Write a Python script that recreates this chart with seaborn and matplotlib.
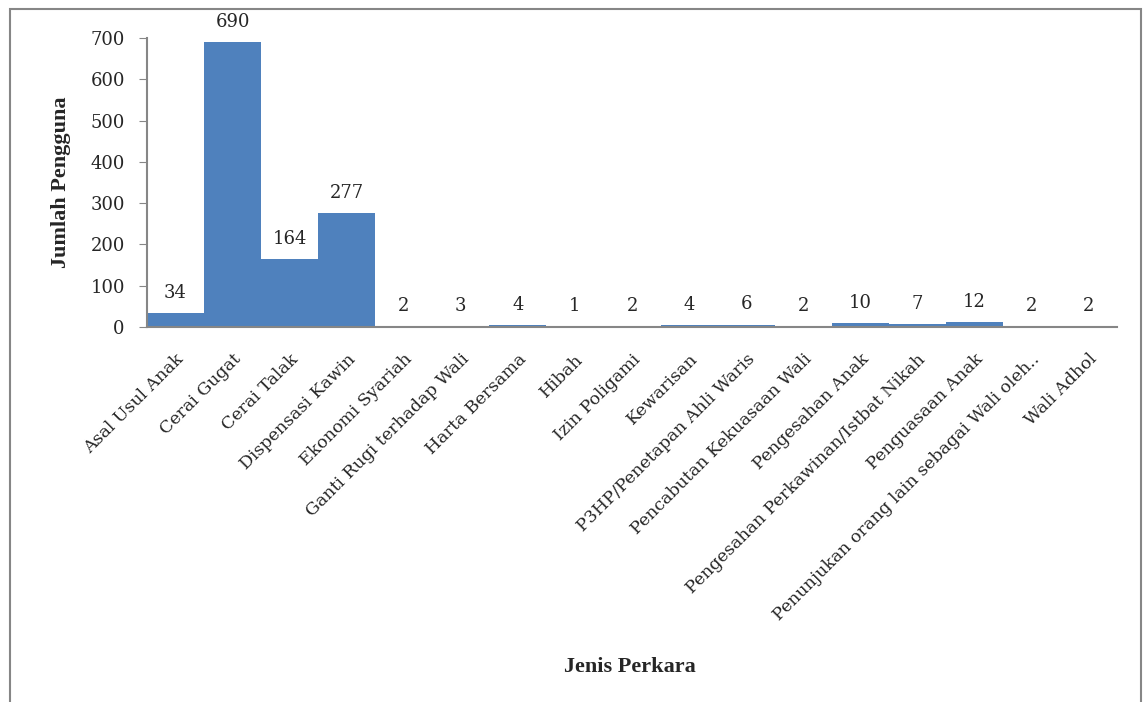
import numpy as np
import pandas as pd
import matplotlib
matplotlib.use("Agg")
import matplotlib.pyplot as plt
import matplotlib.patches as patches
import seaborn as sns

# data
categories = ['Asal Usul Anak', 'Cerai Gugat', 'Cerai Talak', 'Dispensasi Kawin',
              'Ekonomi Syariah', 'Ganti Rugi terhadap Wali', 'Harta Bersama', 'Hibah',
              'Izin Poligami', 'Kewarisan', 'P3HP/Penetapan Ahli Waris',
              'Pencabutan Kekuasaan Wali', 'Pengesahan Anak',
              'Pengesahan Perkawinan/Istbat Nikah', 'Penguasaan Anak',
              'Penunjukan orang lain sebagai Wali oleh..', 'Wali Adhol']
jumlah = [34, 690, 164, 277, 2, 3, 4, 1, 2, 4, 6, 2, 10, 7, 12, 2, 2]

df = pd.DataFrame({'Jenis Perkara': categories, 'Jumlah Pengguna': jumlah})

sns.set_style("white")
plt.rcParams['font.family'] = ['DejaVu Serif']

fig = plt.figure(figsize=(11.44, 7.02), dpi=100)
ax = fig.add_axes([147/1144, 1 - 327/702, 970/1144, 289/702])

sns.barplot(data=df, x='Jenis Perkara', y='Jumlah Pengguna', color='#4F81BD',
            saturation=1, width=1.0, linewidth=0, ax=ax)

for i, v in enumerate(jumlah):
    ax.annotate(str(v), (i, v), xytext=(0, 8), textcoords='offset points',
                ha='center', va='bottom', fontsize=13)

ax.set_ylim(0, 700)
ax.set_xlim(-0.5, len(categories) - 0.5)
ax.set_yticks(range(0, 701, 100))
ax.tick_params(axis='y', labelsize=13, length=6, color='#868686', direction='out', left=True, pad=10)
ax.tick_params(axis='x', length=0, pad=17)
ax.set_xticks(range(len(categories)))
ax.set_xticklabels(categories, rotation=45, ha='right', rotation_mode='anchor', fontsize=12.5)

for s in ['top', 'right']:
    ax.spines[s].set_visible(False)
for s in ['left', 'bottom']:
    ax.spines[s].set_color('#868686')
    ax.spines[s].set_linewidth(1.5)

ax.set_ylabel('Jumlah Pengguna', fontsize=16, fontweight='bold', labelpad=14,
              family='Liberation Serif')
ax.set_xlabel('')
fig.text(630/1144, 1 - 667/702, 'Jenis Perkara', ha='center', va='center',
         fontsize=16, fontweight='bold', family='Liberation Serif')

# outer frame
frame = patches.Rectangle((10/1144, -0.05), 1131/1144, 1.05 - 9/702,
                          transform=fig.transFigure, fill=False,
                          edgecolor='#868686', linewidth=1.5)
fig.patches.append(frame)

fig.savefig('out.png', dpi=100)
